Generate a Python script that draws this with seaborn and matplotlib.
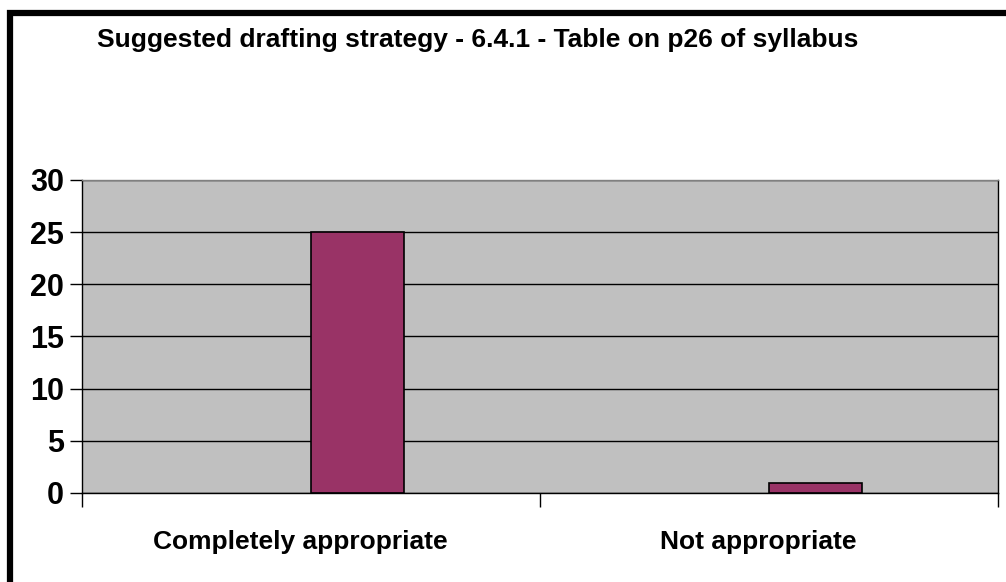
import matplotlib
matplotlib.use("Agg")
import matplotlib.pyplot as plt
import matplotlib.transforms as mtransforms
import seaborn as sns
import pandas as pd
from matplotlib.lines import Line2D

# values
categories = ["Completely appropriate", "Not appropriate"]
responses = [25, 1]
series_order = ["blank", "Responses"]   # excel chart had an empty first series
title = "Suggested drafting strategy - 6.4.1 - Table on p26 of syllabus"

df = pd.DataFrame({"category": categories, "count": responses,
                   "series": ["Responses"] * len(categories)})

sns.set_style("white")
plt.rcParams["font.family"] = ["Liberation Sans", "DejaVu Sans"]
plt.rcParams["text.color"] = "black"
plt.rcParams["xtick.color"] = "black"
plt.rcParams["ytick.color"] = "black"

fig = plt.figure(figsize=(10.06, 5.82), dpi=100)
ax = fig.add_axes([0.0815, 0.153, 0.9105, 0.538])

sns.barplot(data=df, x="category", y="count", hue="series",
            hue_order=series_order, order=categories, dodge=True,
            palette={"blank": "#993366", "Responses": "#993366"},
            saturation=1, width=0.405, edgecolor="black", linewidth=1.2,
            legend=False, ax=ax)

ax.set_facecolor("#C0C0C0")
ax.set_ylim(0, 30)
ax.set_yticks(range(0, 31, 5))
ax.set_xlim(-0.5, 1.5)
ax.yaxis.grid(True, color="black", linewidth=1)
ax.set_axisbelow(True)
for s in ax.spines.values():
    s.set_visible(True)
    s.set_color("black")
    s.set_linewidth(1)
ax.spines["top"].set_color("#808080")

ax.set_xlabel("")
ax.set_ylabel("")
ax.tick_params(axis="y", length=9, width=1, direction="out", left=True,
               labelsize=22, pad=4)
ax.set_xticks([-0.5, 0.5, 1.5], minor=True)
ax.tick_params(axis="x", which="minor", length=10, width=1, direction="out", bottom=True)
ax.tick_params(axis="x", which="major", length=0, labelsize=19, pad=27)
shift = mtransforms.ScaledTranslation(-11 / 100, 0, fig.dpi_scale_trans)
for lab in ax.get_xticklabels():
    lab.set_fontweight("bold")
    lab.set_transform(lab.get_transform() + shift)
for lab in ax.get_yticklabels():
    lab.set_fontweight("bold")

fig.text(0.4745, 0.931, title, ha="center", va="center",
         fontsize=19, fontweight="bold")

# heavy frame at top and left edges (rest is cropped off)
fig.add_artist(Line2D([0.0099, 0.0099, 1.1], [-0.1, 0.9777, 0.9777],
                      transform=fig.transFigure, color="black", linewidth=4.5,
                      solid_joinstyle="miter"))

fig.savefig("out.png", dpi=100)
